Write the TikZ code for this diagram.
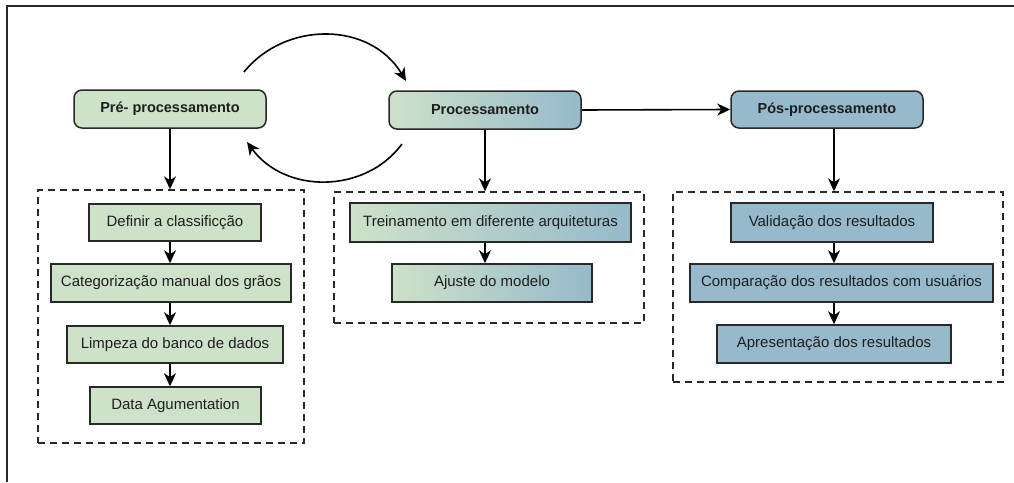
\documentclass[tikz,border=0pt]{standalone}
\usepackage{fontspec}
\setmainfont{Liberation Sans}
\usetikzlibrary{arrows.meta}

\definecolor{leafgreen}{RGB}{206,225,201}
\definecolor{steelblue}{RGB}{150,186,203}
\definecolor{edge}{RGB}{40,40,40}
\definecolor{ink}{RGB}{30,30,30}

\tikzset{
  phase/.style={draw=edge, line width=1.5pt, rounded corners=8pt, inner sep=0pt,
    text=ink, font=\bfseries\fontsize{14.5}{17}\selectfont},
  task/.style={draw=edge, line width=1.5pt, inner sep=0pt,
    text=ink, font=\fontsize{15}{18}\selectfont},
  group/.style={draw=edge, line width=1.4pt, dash pattern=on 7pt off 5pt, inner sep=0pt},
  flow/.style={draw=black, line width=1.6pt, -{Stealth[length=13pt,width=12pt,inset=4pt]}},
  greenfill/.style={fill=leafgreen},
  bluefill/.style={fill=steelblue},
  mixfill/.style={left color=leafgreen, right color=steelblue},
}

\begin{document}
\begin{tikzpicture}[x=1pt,y=-1pt]
  \useasboundingbox (0,0) rectangle (1014,482);

  % frame (top and left edges)
  \draw[edge, line width=1.8pt] (1014,6) -- (7,6) -- (7,482);

  % phase headers
  \node[phase, greenfill, minimum width=192pt, minimum height=38pt] (pre)  at (170,109)   {Pré- processamento};
  \node[phase, mixfill,   minimum width=192pt, minimum height=38pt] (proc) at (485,110)   {Processamento};
  \node[phase, bluefill,  minimum width=192pt, minimum height=37pt] (post) at (827,109.5) {Pós-processamento};

  % dashed groups
  \node[group, minimum width=266pt, minimum height=253pt] (g1) at (171,316.5) {};
  \node[group, minimum width=310pt, minimum height=131pt] (g2) at (489,257.5) {};
  \node[group, minimum width=330pt, minimum height=190pt] (g3) at (838,287)   {};

  % pre-processing steps
  \node[task, greenfill, minimum width=172pt, minimum height=37pt] (c1a) at (175,222.5)   {Definir a classificção};
  \node[task, greenfill, minimum width=240pt, minimum height=38pt] (c1b) at (171,283)     {Categorização manual dos grãos};
  \node[task, greenfill, minimum width=216pt, minimum height=37pt] (c1c) at (175,344.5)   {Limpeza do banco de dados};
  \node[task, greenfill, minimum width=171pt, minimum height=37pt] (c1d) at (175.5,405.5) {Data Agumentation};

  % processing steps
  \node[task, mixfill, minimum width=281pt, minimum height=39pt] (c2a) at (490.5,222.5) {Treinamento em diferente arquiteturas};
  \node[task, mixfill, minimum width=200pt, minimum height=38pt] (c2b) at (492,283)     {Ajuste do modelo};

  % post-processing steps
  \node[task, bluefill, minimum width=202pt, minimum height=39pt] (c3a) at (832,222.5) {Validação dos resultados};
  \node[task, bluefill, minimum width=303pt, minimum height=38pt] (c3b) at (841.5,283) {Comparação dos resultados com usuários};
  \node[task, bluefill, minimum width=234pt, minimum height=38pt] (c3c) at (834,344)   {Apresentação dos resultados};

  % header to group arrows
  \draw[flow] (pre.south)  -- (g1.north -| pre);
  \draw[flow] (proc.south) -- (g2.north -| proc);
  \draw[flow] (post.south -| c3c) -- (g3.north -| c3c);

  % header to header
  \draw[flow] (proc.east) -- (post.west);

  % steps within groups
  \draw[flow] (c1a.south -| pre) -- (c1b.north -| pre);
  \draw[flow] (c1b.south -| pre) -- (c1c.north -| pre);
  \draw[flow] (c1c.south -| pre) -- (c1d.north -| pre);
  \draw[flow] (c2a.south -| proc) -- (c2b.north -| proc);
  \draw[flow] (c3a.south -| c3c) -- (c3b.north -| c3c);
  \draw[flow] (c3b.south -| c3c) -- (c3c.north -| c3c);

  % iteration loop between pre-processing and processing
  \coordinate (loopA) at (244,72);
  \coordinate (loopB) at (406,81);
  \coordinate (loopC) at (402,144);
  \coordinate (loopD) at (247,142);
  \draw[flow] (loopA) .. controls (285,21) and (370,21) .. (loopB);
  \draw[flow] (loopC) .. controls (365,194) and (285,194) .. (loopD);
\end{tikzpicture}
\end{document}
